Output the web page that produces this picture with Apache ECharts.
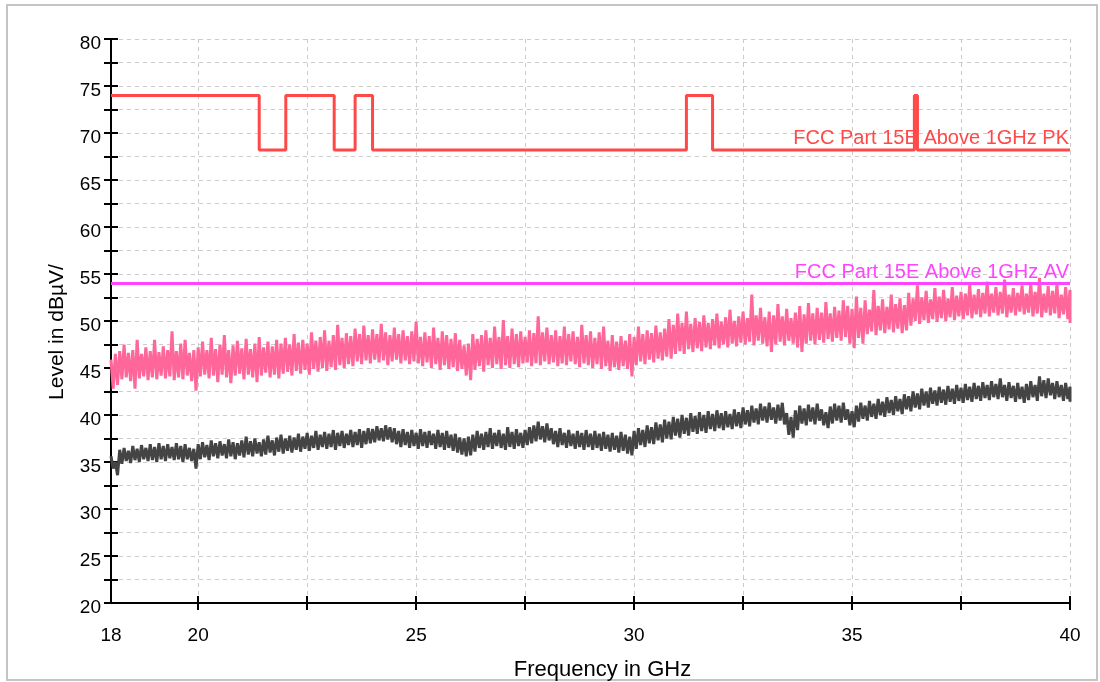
<!DOCTYPE html>
<html>
<head>
<meta charset="utf-8">
<script src="https://cdn.jsdelivr.net/npm/echarts@6/dist/echarts.min.js"></script>
<style>
html,body{margin:0;padding:0;background:#fff;}
#chart{width:1100px;height:682px;}
</style>
</head>
<body>
<div id="chart"></div>
<script>
// Sweep grid: 18.0 .. 40.0 GHz, 0.1 GHz per sample pair (max / min)
const sweepStart = 18.0;
const sweepStep = 0.1;

// Peak trace (pink): upper and lower envelope samples, dBµV
const pinkHi = [
45.9,46.5,46.8,47.5,46.6,46.9,48.0,46.5,47.2,46.8,
48.0,46.7,47.3,46.9,48.9,46.8,47.6,48.0,46.6,46.9,
47.2,47.8,46.9,48.2,47.0,47.5,48.5,46.9,47.4,47.9,
47.1,48.1,47.0,47.6,48.3,47.2,47.8,47.3,48.0,47.6,
48.2,47.5,48.6,47.7,48.0,47.6,48.8,47.9,48.3,49.0,
47.9,48.5,49.6,48.2,48.7,48.4,49.2,48.6,49.5,48.5,
49.1,48.6,49.7,48.8,48.5,49.3,48.6,49.0,48.4,48.9,
49.9,48.3,48.8,48.4,49.3,48.2,48.9,48.5,48.1,48.7,
48.0,47.4,47.6,48.6,48.1,48.5,49.0,48.2,49.4,48.3,
50.1,48.4,49.2,48.6,48.9,48.3,49.0,48.7,50.5,48.8,
49.3,48.5,49.0,48.4,49.4,48.6,48.9,48.3,49.6,48.5,
48.9,48.2,48.8,49.4,47.9,48.5,47.8,48.4,47.9,48.6,
48.3,49.4,48.6,49.0,48.7,49.5,48.8,49.2,50.2,49.6,
50.8,49.8,51.0,49.7,50.3,49.9,50.6,49.8,50.2,50.8,
49.9,50.4,51.2,50.0,50.5,51.0,50.3,52.8,50.6,51.4,
50.4,51.0,50.6,51.8,50.5,51.3,50.3,50.9,51.6,50.7,
51.9,50.8,51.4,50.9,52.0,50.8,51.5,51.1,52.2,51.6,
51.3,52.6,51.4,52.2,51.2,53.3,51.6,52.3,51.5,52.8,
51.8,52.4,51.7,53.0,52.4,53.8,52.5,53.2,52.3,53.5,
52.6,53.3,52.4,53.6,52.7,53.1,52.9,53.9,52.8,53.4,
53.0,54.2,52.9,53.6,53.1,54.4,52.8,53.5,53.0,53.8,
52.9,54.0,53.1,54.6,52.9,53.7,53.2,54.0,52.8,53.6,
53.3
];
const pinkLo = [
42.8,43.2,43.8,44.0,43.6,42.8,43.9,44.1,43.7,44.0,
43.8,44.2,43.9,44.1,43.7,44.0,43.8,44.2,43.6,42.6,
44.1,44.3,43.9,44.2,43.5,44.3,44.0,43.4,44.2,44.4,
43.8,44.3,44.0,43.5,44.2,44.5,44.0,44.3,43.9,44.4,
44.6,44.2,44.7,44.4,44.8,44.3,44.9,44.6,45.0,44.7,
45.1,44.8,45.3,45.0,45.4,45.2,45.7,45.4,45.8,45.5,
45.9,45.6,45.8,45.3,45.7,45.9,45.5,45.8,45.4,45.7,
45.5,45.2,45.6,45.0,45.4,44.8,45.3,44.9,45.1,44.7,
44.9,44.2,43.7,44.8,45.2,44.6,45.3,45.0,45.4,44.9,
45.3,45.0,45.4,45.1,45.5,45.6,45.2,45.5,45.3,45.7,
45.4,45.6,45.2,45.5,45.3,45.7,45.4,45.1,45.5,45.3,
45.0,45.4,44.9,45.2,44.7,45.1,44.8,45.2,44.9,44.1,
45.3,45.7,45.4,45.9,45.6,46.0,45.8,46.2,46.0,46.5,
46.8,46.5,47.0,46.7,47.1,46.8,47.2,47.0,47.4,47.1,
47.5,47.2,47.6,47.3,47.7,47.5,47.8,47.4,47.9,47.6,
47.3,46.7,47.5,47.8,47.4,47.9,47.6,47.2,46.7,47.6,
47.9,47.5,48.0,47.7,48.1,47.8,48.2,47.9,48.3,47.6,
47.1,48.2,47.6,48.6,48.9,48.5,49.0,48.7,49.1,48.8,
49.2,48.7,49.0,49.5,50.0,49.7,50.1,49.8,50.2,49.9,
50.3,50.0,50.4,50.1,50.5,50.2,50.6,50.3,50.7,50.4,
50.8,50.5,50.9,50.6,50.8,50.4,50.9,50.6,51.0,50.7,
50.9,50.5,50.8,50.4,50.9,50.6,50.8,50.3,50.7,50.2,
49.8
];

// Average trace (dark grey): upper and lower envelope samples, dBµV
const grayHi = [
35.6,35.0,36.3,36.5,36.2,36.7,36.4,36.8,36.5,36.9,
36.6,37.0,36.7,36.9,36.6,37.0,36.7,36.9,36.5,36.4,
36.9,37.1,36.8,37.3,37.0,37.2,36.9,37.4,37.1,37.0,
37.3,37.7,37.2,37.5,37.1,37.4,37.8,37.3,37.6,37.9,
37.5,37.8,37.6,38.0,37.7,38.1,37.8,38.3,37.9,38.2,
38.0,38.4,38.1,38.3,38.0,38.4,38.2,38.5,38.3,38.6,
38.5,38.8,38.6,38.9,38.7,38.6,38.3,38.5,38.2,38.4,
38.1,38.5,38.2,38.3,38.0,38.4,38.1,38.3,37.9,38.0,
37.6,37.5,37.7,37.9,38.3,38.0,38.2,38.6,38.1,38.4,
38.0,38.7,38.2,38.5,38.1,38.4,38.7,38.9,39.3,38.8,
39.1,38.6,38.3,38.6,38.1,38.4,38.0,38.3,38.1,38.4,
38.0,38.3,38.0,38.2,37.9,38.1,37.8,38.2,37.9,37.7,
38.3,38.6,38.4,38.9,38.7,39.2,39.0,39.5,39.3,39.8,
39.6,40.0,39.7,40.2,39.9,40.3,40.0,40.4,40.1,40.5,
40.2,40.4,40.1,40.6,40.3,40.8,40.5,41.0,40.7,41.2,
40.9,41.3,40.8,41.1,41.3,40.2,39.8,40.5,41.0,40.7,
41.1,40.8,41.2,40.6,40.3,40.9,41.2,41.0,41.3,40.6,
40.4,41.0,41.3,41.0,41.5,41.2,41.7,41.4,41.9,41.6,
42.0,41.7,42.2,42.0,42.5,42.3,42.8,42.5,42.9,42.6,
43.0,42.7,43.1,42.8,43.2,42.9,43.3,43.0,43.4,43.1,
43.5,43.2,43.6,43.3,43.9,43.2,43.5,43.1,43.4,43.0,
43.3,43.6,43.2,44.1,43.7,43.9,43.4,43.6,43.2,43.4,
43.0
];
const grayLo = [
34.3,33.6,34.8,35.1,34.9,35.2,35.0,35.3,35.1,35.2,
35.0,35.3,35.1,35.4,35.2,35.3,35.0,35.3,35.1,34.3,
35.3,35.5,35.2,35.6,35.4,35.7,35.4,35.6,35.3,35.7,
35.5,35.8,35.6,35.9,35.6,35.8,36.0,35.7,36.1,35.9,
36.2,36.0,36.3,36.1,36.4,36.2,36.5,36.3,36.6,36.4,
36.6,36.3,36.7,36.5,36.8,36.6,36.8,36.5,36.9,37.0,
37.1,37.3,37.2,37.4,37.1,36.9,36.6,36.8,36.5,36.7,
36.4,36.7,36.5,36.8,36.4,36.6,36.3,36.5,36.2,36.0,
35.8,35.6,35.7,36.1,36.5,36.3,36.6,36.4,36.7,36.5,
36.3,36.6,36.4,36.7,36.5,36.8,37.0,37.2,37.4,37.1,
37.3,36.9,36.6,36.8,36.5,36.7,36.4,36.6,36.3,36.6,
36.3,36.5,36.2,36.4,36.1,36.3,36.0,36.2,35.9,35.7,
36.4,36.8,36.6,37.0,36.9,37.3,37.1,37.5,37.4,37.8,
37.6,38.0,37.8,38.2,38.0,38.3,38.1,38.5,38.3,38.6,
38.4,38.7,38.5,38.8,38.6,39.0,38.8,39.2,39.0,39.4,
39.2,39.5,39.1,39.4,39.0,37.9,37.6,38.4,39.1,38.9,
39.3,39.0,39.4,38.9,38.6,39.1,39.4,39.2,39.5,38.9,
38.7,39.3,39.6,39.4,39.8,39.6,40.0,39.8,40.2,40.0,
40.4,40.1,40.6,40.4,40.8,40.6,41.0,40.8,41.2,41.0,
41.3,41.1,41.4,41.2,41.5,41.3,41.6,41.4,41.7,41.5,
41.8,41.6,41.9,41.7,41.9,41.5,41.8,41.4,41.7,41.3,
41.6,41.9,41.5,42.0,41.8,42.1,41.7,41.9,41.5,41.7,
41.4
];

// Limit lines (value holds from the listed frequency onward)
const pkFreq  = [18, 21.4, 22.01, 23.12, 23.6, 24.0, 31.2, 31.8, 36.43, 36.5, 40];
const pkLevel = [74, 68.2, 74,    68.2,  74,   68.2, 74,   68.2, 74,    68.2, 68.2];
const avFreq  = [18, 40];
const avLevel = [54, 54];
const pkLabel = 'FCC Part 15E Above 1GHz PK';
const avLabel = 'FCC Part 15E Above 1GHz AV';

// Axis ticks / labels
const xTickValues  = [20, 22.5, 25, 27.5, 30, 32.5, 35, 37.5, 40];
const xLabelValues = [18, 20, 25, 30, 35, 40];
const xTitle = 'Frequency in GHz';
const yTitle = 'Level in dBµV/';

function zigzag(hi, lo) {
  const d = [];
  for (let i = 0; i < hi.length; i++) {
    const f = +(sweepStart + i * sweepStep).toFixed(3);
    d.push([f, hi[i]]);
    const f2 = i < hi.length - 1 ? +(f + sweepStep / 2).toFixed(3) : f;
    d.push([f2, lo[i]]);
  }
  return d;
}
const zip = (a, b) => a.map((v, i) => [v, b[i]]);

const FONT = 'Liberation Sans, Arial, Helvetica, sans-serif';
const chart = echarts.init(document.getElementById('chart'));
const tickStyle = { color: '#000', width: 2 };
const option = {
  animation: false,
  backgroundColor: '#ffffff',
  textStyle: { fontFamily: FONT },
  grid: { left: 111, right: 30, top: 39, bottom: 79, containLabel: false, outerBoundsMode: 'none' },
  graphic: [{
    type: 'rect', z: -10, silent: true,
    shape: { x: 7, y: 5, width: 1090, height: 675 },
    style: { fill: 'none', stroke: '#c4c4c4', lineWidth: 2 }
  }],
  xAxis: [{
    type: 'value', min: 18, max: 40,
    name: xTitle, nameLocation: 'middle', nameGap: 56,
    nameTextStyle: { fontSize: 22, color: '#000', fontFamily: FONT, padding: [0, 0, 0, 24] },
    axisLine: { show: true, onZero: false, lineStyle: { color: '#000', width: 2 } },
    axisTick: { show: true, length: 7, lineStyle: tickStyle, customValues: xTickValues },
    axisLabel: { fontSize: 19, color: '#000', margin: 23, fontFamily: FONT, customValues: xLabelValues },
    splitLine: { show: true, lineStyle: { color: '#cccccc', type: [4, 4], width: 1 } }
  }, {
    type: 'value', min: 18, max: 40, position: 'bottom',
    axisLine: { show: false },
    axisTick: { show: true, inside: true, length: 7, lineStyle: tickStyle, customValues: xTickValues },
    axisLabel: { show: false },
    splitLine: { show: false }
  }],
  yAxis: [{
    type: 'value', min: 20, max: 80, interval: 2.5,
    name: yTitle, nameLocation: 'middle', nameGap: 43,
    nameTextStyle: { fontSize: 21, color: '#000', fontFamily: FONT, padding: [0, 22, 0, 0] },
    axisLine: { show: true, onZero: false, lineStyle: { color: '#000', width: 2 } },
    axisTick: { show: true, length: 7, lineStyle: tickStyle },
    axisLabel: { fontSize: 19, color: '#000', margin: 10, fontFamily: FONT,
      verticalAlign: 'top', lineHeight: 10,
      formatter: v => (v % 5 === 0 ? String(v) : '') },
    splitLine: { show: true, lineStyle: { color: '#cccccc', type: [4, 4], width: 1 } }
  }, {
    type: 'value', min: 20, max: 80, interval: 2.5, position: 'left',
    axisLine: { show: false },
    axisTick: { show: true, inside: true, length: 7, lineStyle: tickStyle },
    axisLabel: { show: false },
    splitLine: { show: false }
  }],
  series: [
    { name: 'AV trace', type: 'line', symbol: 'none', z: 2,
      data: zigzag(grayHi, grayLo),
      lineStyle: { color: '#444444', width: 3 } },
    { name: 'PK trace', type: 'line', symbol: 'none', z: 2,
      data: zigzag(pinkHi, pinkLo),
      lineStyle: { color: '#ff6699', width: 3 } },
    { name: 'PK limit', type: 'line', symbol: 'none', step: 'end', z: 4,
      data: zip(pkFreq, pkLevel),
      lineStyle: { color: '#ff4848', width: 3 },
      markLine: { silent: true, symbol: 'none',
        lineStyle: { color: 'rgba(255,255,255,0)', width: 0 },
        label: { show: true, position: 'insideEndTop', formatter: pkLabel,
          color: '#ff4848', fontSize: 20, fontFamily: FONT, distance: 1 },
        data: [{ yAxis: pkLevel[pkLevel.length - 1] }] } },
    { name: 'AV limit', type: 'line', symbol: 'none', z: 4,
      data: zip(avFreq, avLevel),
      lineStyle: { color: '#ff44ff', width: 3 },
      markLine: { silent: true, symbol: 'none',
        lineStyle: { color: 'rgba(255,255,255,0)', width: 0 },
        label: { show: true, position: 'insideEndTop', formatter: avLabel,
          color: '#ff44ff', fontSize: 20, fontFamily: FONT, distance: 1 },
        data: [{ yAxis: avLevel[0] }] } }
  ]
};
chart.setOption(option);
</script>
</body>
</html>
